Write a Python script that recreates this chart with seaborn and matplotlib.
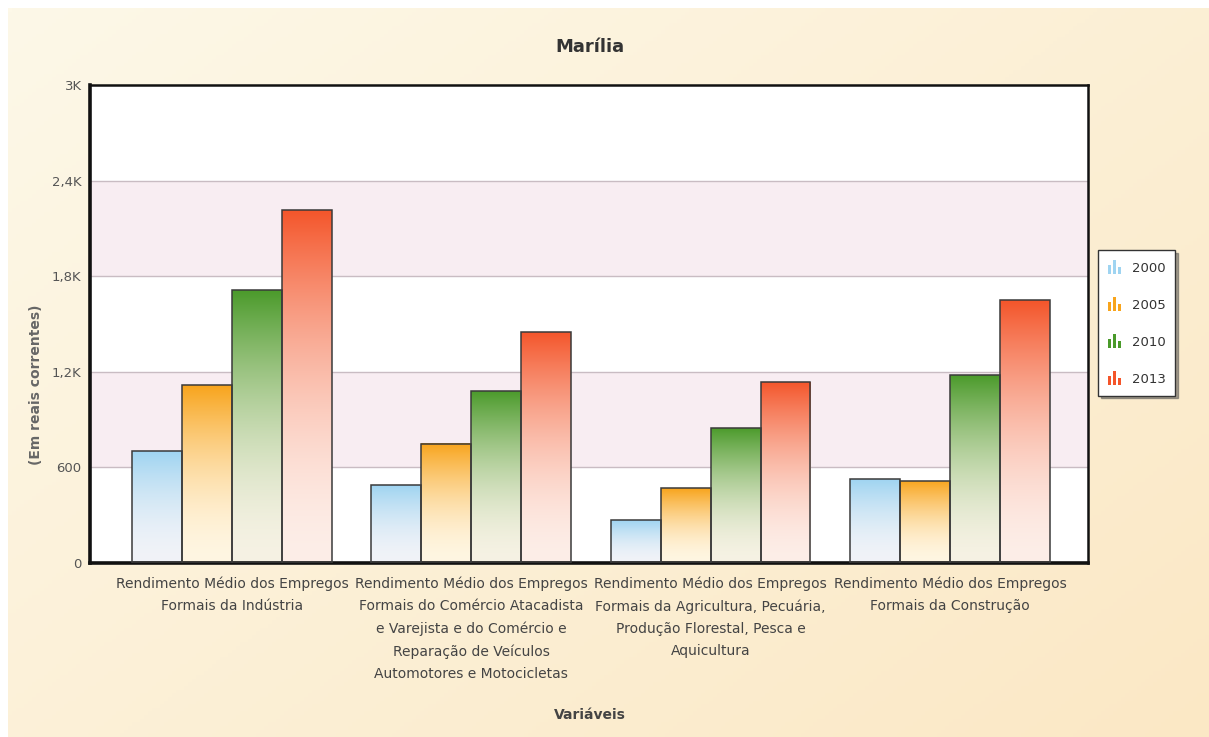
import numpy as np
import pandas as pd
import matplotlib
matplotlib.use("Agg")
import matplotlib.pyplot as plt
from matplotlib.colors import to_rgb
from matplotlib.patches import Patch, Rectangle
from matplotlib.legend_handler import HandlerBase
import seaborn as sns

# ---- data -------------------------------------------------------------
categories = [
    "Rendimento Médio dos Empregos\nFormais da Indústria",
    "Rendimento Médio dos Empregos\nFormais do Comércio Atacadista\ne Varejista e do Comércio e\nReparação de Veículos\nAutomotores e Motocicletas",
    "Rendimento Médio dos Empregos\nFormais da Agricultura, Pecuária,\nProdução Florestal, Pesca e\nAquicultura",
    "Rendimento Médio dos Empregos\nFormais da Construção",
]
years = ["2000", "2005", "2010", "2013"]
values_2000 = [700, 487, 269, 527]
values_2005 = [1117, 750, 469, 517]
values_2010 = [1714, 1081, 850, 1181]
values_2013 = [2217, 1450, 1137, 1648]

y_ticks = [0, 600, 1200, 1800, 2400, 3000]
y_tick_labels = ["0", "600", "1,2K", "1,8K", "2,4K", "3K"]

# top (saturated) and bottom (pale) colours of each year's gradient
top_colors = ["#9fd4f1", "#f8a41c", "#4a9a2a", "#f4552a"]
bottom_colors = ["#f1f3f8", "#fff6e2", "#f6f2e4", "#fdeee8"]

df = pd.DataFrame({
    "Variáveis": categories * 4,
    "valor": values_2000 + values_2005 + values_2010 + values_2013,
    "ano": sum([[y] * len(categories) for y in years], []),
})

# ---- figure -----------------------------------------------------------
sns.set_theme(style="white")
plt.rcParams["font.family"] = ["DejaVu Sans"]

W, H = 1209, 737
fig = plt.figure(figsize=(W / 100, H / 100), dpi=100, facecolor="white")

# cream page background with a soft diagonal gradient
bg = fig.add_axes([8 / W, 0, 1 - 8 / W, 1 - 8 / H], zorder=-10)
gx, gy = np.meshgrid(np.linspace(0, 1, 300), np.linspace(0, 1, 200))
t = np.clip(0.55 * gx + 0.45 * gy, 0, 1)[..., None]
c0 = np.array(to_rgb("#fdf8e8"))
c1 = np.array(to_rgb("#fbe8c5"))
bg.imshow(c0 + (c1 - c0) * t, aspect="auto", extent=[0, 1, 1, 0])
bg.set_axis_off()

ax = fig.add_axes([90 / W, 1 - 563 / H, 998 / W, 478 / H])
ax.set_facecolor("white")

sns.barplot(data=df, x="Variáveis", y="valor", hue="ano", hue_order=years,
            palette=top_colors, width=0.835, edgecolor="#3a3a3a", linewidth=1.1,
            legend=False, ax=ax, zorder=3)

# pastel bands and grid lines behind the bars
for lo, hi in [(600, 1200), (1800, 2400)]:
    ax.axhspan(lo, hi, color="#f8edf2", zorder=0, lw=0)
for yv in y_ticks[1:-1]:
    ax.axhline(yv, color="#c9bcc3", lw=1.0, zorder=1)

# vertical colour fade inside every bar
for i, cont in enumerate(ax.containers):
    top = np.array(to_rgb(top_colors[i]))
    bot = np.array(to_rgb(bottom_colors[i]))
    s = np.linspace(0, 1, 256) ** 1.8
    grad = (bot + (top - bot) * s[:, None])[:, None, :]
    for bar in cont:
        x0 = bar.get_x()
        w = bar.get_width()
        h = bar.get_height()
        im = ax.imshow(grad, extent=[x0, x0 + w, 0, h], origin="lower",
                       aspect="auto", zorder=2, interpolation="bilinear")
        im.set_clip_path(bar)
        bar.set_facecolor("none")

ax.set_xlim(-0.593, 3.577)
ax.set_ylim(0, 3000)
ax.set_yticks(y_ticks)
ax.set_yticklabels(y_tick_labels)
ax.tick_params(axis="y", length=4, color="#a0a0a0", labelsize=9.5, labelcolor="#555555", pad=2)
ax.tick_params(axis="x", length=0, labelsize=10, labelcolor="#444444", pad=10)
for lbl in ax.get_xticklabels():
    lbl.set_linespacing(1.72)
ax.set_xlabel("")
ax.set_ylabel("")

for side in ["left", "bottom"]:
    ax.spines[side].set_linewidth(2.6)
    ax.spines[side].set_color("#111111")
for side in ["top", "right"]:
    ax.spines[side].set_linewidth(1.8)
    ax.spines[side].set_color("#111111")
    ax.spines[side].set_visible(True)

# titles
fig.text(590 / W, 1 - 47 / H, "Marília", ha="center", va="center",
         fontsize=13, fontweight="bold", color="#333333")
fig.text(590 / W, 1 - 715 / H, "Variáveis", ha="center", va="center",
         fontsize=10, fontweight="bold", color="#444444")
fig.text(36 / W, 1 - 385 / H, "(Em reais correntes)", ha="center", va="center",
         rotation=90, fontsize=10, fontweight="bold", color="#666666")


# legend with tiny bar-chart icons
class MiniBars(HandlerBase):
    def create_artists(self, legend, orig_handle, xdescent, ydescent,
                       width, height, fontsize, trans):
        color = orig_handle.get_facecolor()
        rel = [0.65, 1.0, 0.5]
        bw = width / 3.8
        arts = []
        for k, r in enumerate(rel):
            arts.append(Rectangle((-xdescent + k * bw * 1.4, -ydescent),
                                  bw, height * r, facecolor=color,
                                  edgecolor="none", transform=trans))
        return arts


handles = [Patch(facecolor=c) for c in top_colors]
leg = fig.legend(handles, years, loc="upper left",
                 bbox_to_anchor=(1098 / W, 1 - 250 / H),
                 bbox_transform=fig.transFigure, borderaxespad=0,
                 handler_map={Patch: MiniBars()}, fontsize=9.5,
                 handlelength=1.0, handleheight=1.3, handletextpad=0.8,
                 labelspacing=1.7, borderpad=0.75, frameon=True,
                 fancybox=False, shadow=True)
leg.get_frame().set_edgecolor("#333333")
leg.get_frame().set_linewidth(1.0)
for txt in leg.get_texts():
    txt.set_color("#333333")

fig.savefig("out.png", dpi=100)
